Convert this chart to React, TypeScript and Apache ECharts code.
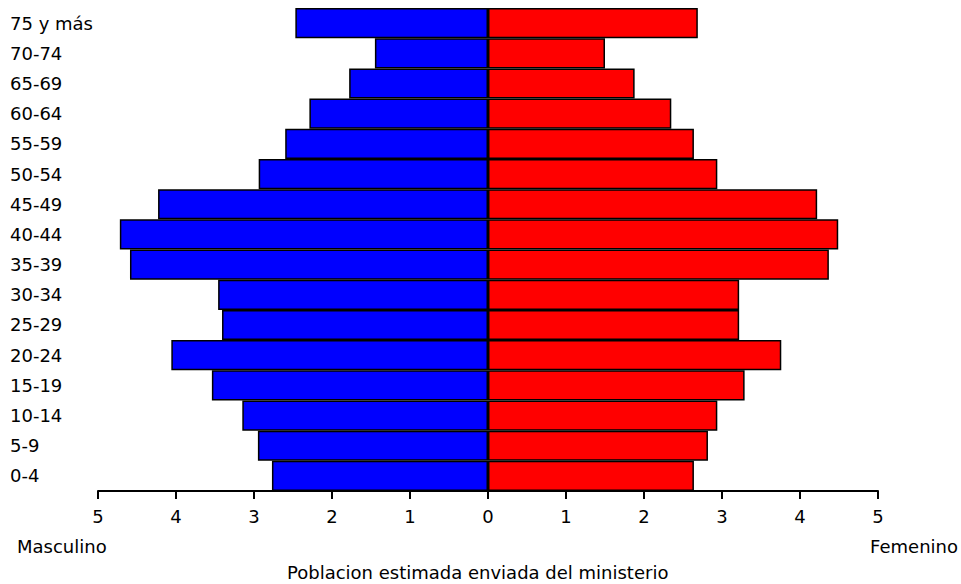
import React, { useEffect, useRef } from "react";
import * as echarts from "echarts";

const categories = ["0-4", "5-9", "10-14", "15-19", "20-24", "25-29", "30-34", "35-39", "40-44", "45-49", "50-54", "55-59", "60-64", "65-69", "70-74", "75 y más"];
const masculino = [2.77, 2.95, 3.15, 3.54, 4.06, 3.41, 3.46, 4.59, 4.72, 4.23, 2.94, 2.60, 2.29, 1.78, 1.45, 2.47];
const femenino = [2.64, 2.82, 2.94, 3.29, 3.76, 3.22, 3.22, 4.37, 4.49, 4.22, 2.94, 2.64, 2.35, 1.88, 1.50, 2.69];
const titleText = "Poblacion estimada enviada del ministerio";
const leftLabel = "Masculino";
const rightLabel = "Femenino";

const FONT = "DejaVu Sans";

export default function App() {
  const ref = useRef<HTMLDivElement>(null);
  useEffect(() => {
    const chart = echarts.init(ref.current!, null, { renderer: "svg" });
    chart.setOption({
      animation: false,
      backgroundColor: "#ffffff",
      textStyle: { fontFamily: FONT },
      title: {
        text: titleText,
        left: 287,
        top: 563,
        padding: 0,
        textStyle: { fontFamily: FONT, fontSize: 18, fontWeight: "normal", color: "#000" },
      },
      graphic: [
        {
          type: "text",
          left: 17,
          top: 537,
          style: { text: leftLabel, font: `18px "${FONT}"`, fill: "#000" },
        },
        {
          type: "text",
          right: 3,
          top: 537,
          style: { text: rightLabel, font: `18px "${FONT}"`, fill: "#000" },
        },
      ],
      grid: { left: 98, right: 83, top: 8, bottom: 93, containLabel: false },
      xAxis: {
        type: "value",
        min: -5,
        max: 5,
        interval: 1,
        splitLine: { show: false },
        axisLine: { show: true, onZero: false, lineStyle: { color: "#000", width: 2 } },
        axisTick: { show: true, length: 8, lineStyle: { color: "#000", width: 2 } },
        axisLabel: {
          margin: 16,
          fontSize: 18,
          fontFamily: FONT,
          color: "#000",
          formatter: (v: number) => String(Math.abs(v)),
        },
      },
      yAxis: {
        type: "category",
        data: categories,
        axisLine: { show: false },
        axisTick: { show: false },
        splitLine: { show: false },
        axisLabel: {
          margin: 88,
          align: "left",
          fontSize: 18,
          fontFamily: FONT,
          color: "#000",
        },
      },
      series: [
        {
          name: leftLabel,
          type: "bar",
          stack: "p",
          barWidth: "100%",
          barCategoryGap: 0,
          data: masculino.map((v) => -v),
          itemStyle: { color: "#0000ff", borderColor: "#000", borderWidth: 1.5 },
        },
        {
          name: rightLabel,
          type: "bar",
          stack: "p",
          barWidth: "100%",
          barCategoryGap: 0,
          data: femenino,
          itemStyle: { color: "#ff0000", borderColor: "#000", borderWidth: 1.5 },
        },
      ],
    });
    return () => chart.dispose();
  }, []);
  return <div ref={ref} style={{ width: 961, height: 584, position: "fixed", left: 0, top: 0 }} />;
}
